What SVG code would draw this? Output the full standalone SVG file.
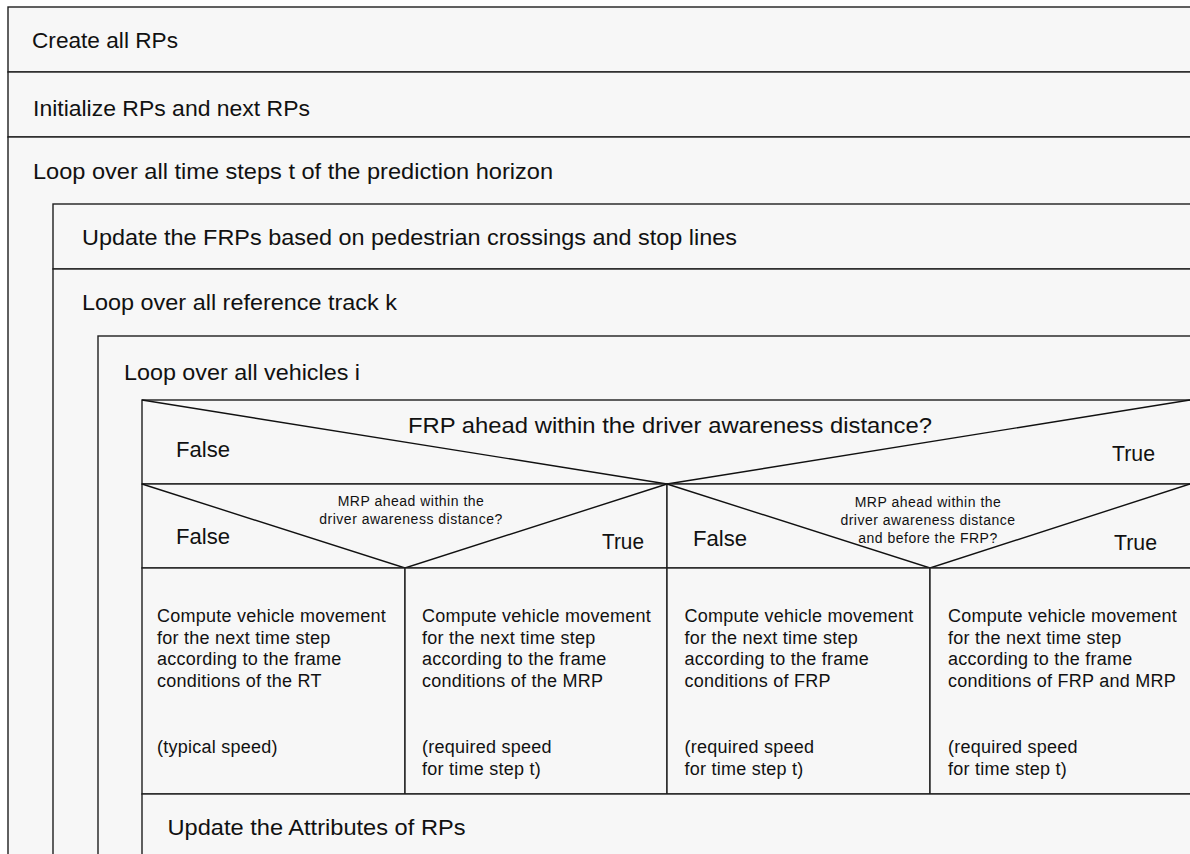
<svg xmlns="http://www.w3.org/2000/svg" width="1190" height="854" viewBox="0 0 1190 854">
<style>
.b{fill:#f7f7f7;stroke:#1e1e1e;stroke-width:1.4}
.d{fill:none;stroke:#111;stroke-width:1.4}
.t{font-family:"Liberation Sans",Arial,Helvetica,sans-serif;font-size:22px;fill:#111}
.s{font-family:"Liberation Sans",Arial,Helvetica,sans-serif;font-size:14px;letter-spacing:0.5px;fill:#111;text-anchor:middle}
.c{font-family:"Liberation Sans",Arial,Helvetica,sans-serif;font-size:18px;letter-spacing:0.25px;fill:#111}
</style>
<rect x="0" y="0" width="1190" height="854" fill="#ffffff"/>
<g id="create-all-rps">
<rect class="b" x="8" y="7" width="1200" height="65"/>
<text class="t" x="32" y="48" textLength="146" lengthAdjust="spacingAndGlyphs">Create all RPs</text>
</g>
<g id="initialize-rps">
<rect class="b" x="8" y="72" width="1200" height="65"/>
<text class="t" x="33" y="116" textLength="277" lengthAdjust="spacingAndGlyphs">Initialize RPs and next RPs</text>
</g>
<g id="loop-time-steps">
<rect class="b" x="8" y="137" width="1200" height="740"/>
<text class="t" x="33" y="179" textLength="520" lengthAdjust="spacingAndGlyphs">Loop over all time steps t of the prediction horizon</text>
</g>
<g id="update-frps">
<rect class="b" x="53" y="204" width="1200" height="65"/>
<text class="t" x="82" y="245" textLength="655" lengthAdjust="spacingAndGlyphs">Update the FRPs based on pedestrian crossings and stop lines</text>
</g>
<g id="loop-reference-tracks">
<rect class="b" x="53" y="269" width="1200" height="620"/>
<text class="t" x="82" y="310" textLength="315" lengthAdjust="spacingAndGlyphs">Loop over all reference track k</text>
</g>
<g id="loop-vehicles">
<rect class="b" x="98" y="336" width="1200" height="560"/>
<text class="t" x="124" y="380" textLength="236" lengthAdjust="spacingAndGlyphs">Loop over all vehicles i</text>
</g>
<g id="decision-frp">
<rect class="b" x="142" y="400" width="1200" height="84"/>
<polyline class="d" points="142,400 667,484 1190,400"/>
<text class="t" x="408" y="433" textLength="524" lengthAdjust="spacingAndGlyphs">FRP ahead within the driver awareness distance?</text>
<text class="t" x="176" y="457" textLength="54" lengthAdjust="spacingAndGlyphs">False</text>
<text class="t" x="1112" y="461" textLength="43" lengthAdjust="spacingAndGlyphs">True</text>
</g>
<g id="decision-mrp-left">
<rect class="b" x="142" y="484" width="525" height="84"/>
<polyline class="d" points="142,484 405,568 667,484"/>
<text class="s" x="411" y="506">MRP ahead within the</text>
<text class="s" x="411" y="524">driver awareness distance?</text>
<text class="t" x="176" y="544" textLength="54" lengthAdjust="spacingAndGlyphs">False</text>
<text class="t" x="602" y="549" textLength="42" lengthAdjust="spacingAndGlyphs">True</text>
</g>
<g id="decision-mrp-right">
<rect class="b" x="667" y="484" width="600" height="84"/>
<polyline class="d" points="667,484 930,568 1190,484"/>
<text class="s" x="928" y="507">MRP ahead within the</text>
<text class="s" x="928" y="525">driver awareness distance</text>
<text class="s" x="928" y="543">and before the FRP?</text>
<text class="t" x="693" y="546" textLength="54" lengthAdjust="spacingAndGlyphs">False</text>
<text class="t" x="1114" y="550" textLength="43" lengthAdjust="spacingAndGlyphs">True</text>
</g>
<g id="compute-rt">
<rect class="b" x="142" y="568" width="263" height="226"/>
<text class="c" x="157" y="622">Compute vehicle movement</text>
<text class="c" x="157" y="643.5">for the next time step</text>
<text class="c" x="157" y="665">according to the frame</text>
<text class="c" x="157" y="686.5">conditions of the RT</text>
<text class="c" x="157" y="753">(typical speed)</text>
</g>
<g id="compute-mrp">
<rect class="b" x="405" y="568" width="262" height="226"/>
<text class="c" x="422" y="622">Compute vehicle movement</text>
<text class="c" x="422" y="643.5">for the next time step</text>
<text class="c" x="422" y="665">according to the frame</text>
<text class="c" x="422" y="686.5">conditions of the MRP</text>
<text class="c" x="422" y="753">(required speed</text>
<text class="c" x="422" y="775">for time step t)</text>
</g>
<g id="compute-frp">
<rect class="b" x="667" y="568" width="263" height="226"/>
<text class="c" x="684.5" y="622">Compute vehicle movement</text>
<text class="c" x="684.5" y="643.5">for the next time step</text>
<text class="c" x="684.5" y="665">according to the frame</text>
<text class="c" x="684.5" y="686.5">conditions of FRP</text>
<text class="c" x="684.5" y="753">(required speed</text>
<text class="c" x="684.5" y="775">for time step t)</text>
</g>
<g id="compute-frp-mrp">
<rect class="b" x="930" y="568" width="300" height="226"/>
<text class="c" x="948" y="622">Compute vehicle movement</text>
<text class="c" x="948" y="643.5">for the next time step</text>
<text class="c" x="948" y="665">according to the frame</text>
<text class="c" x="948" y="686.5">conditions of FRP and MRP</text>
<text class="c" x="948" y="753">(required speed</text>
<text class="c" x="948" y="775">for time step t)</text>
</g>
<g id="update-attributes">
<rect class="b" x="142" y="794" width="1100" height="100"/>
<text class="t" x="167.5" y="835" textLength="298" lengthAdjust="spacingAndGlyphs">Update the Attributes of RPs</text>
</g>
<g id="connectors"></g>
</svg>
